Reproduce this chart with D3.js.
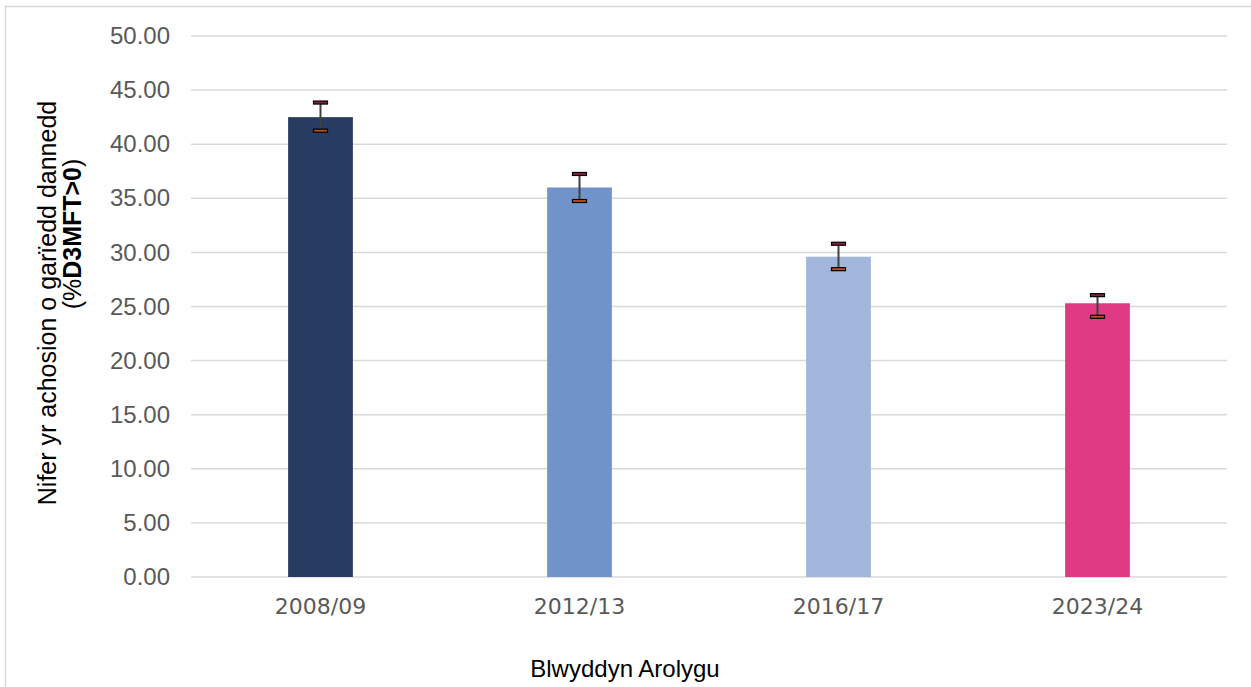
<!DOCTYPE html>
<html>
<head>
<meta charset="utf-8">
<script src="https://cdn.jsdelivr.net/npm/d3@7"></script>
<style>
  body { margin: 0; background: #fff; }
  svg { display: block; }
</style>
</head>
<body>
<svg></svg>
<script>
// Chart data
const years = ["2008/09", "2012/13", "2016/17", "2023/24"];
const values = [42.5, 36.0, 29.6, 25.3];
const lower = [41.25, 34.75, 28.45, 24.05];
const upper = [43.85, 37.25, 30.8, 26.05];
const barColors = ["#283b61", "#7094c9", "#a2b6dc", "#e03a84"];
const yTicks = [0, 5, 10, 15, 20, 25, 30, 35, 40, 45, 50];

const width = 1251;
const height = 687;
const margin = { top: 36, right: 24, bottom: 110, left: 191 };

const svg = d3.select("svg")
    .attr("width", width)
    .attr("height", height);

// Outer chart border (runs off the right and bottom edges)
svg.append("rect")
    .attr("x", 5.5)
    .attr("y", 6.5)
    .attr("width", width + 10)
    .attr("height", height + 10)
    .attr("fill", "none")
    .attr("stroke", "#d9d9d9")
    .attr("stroke-width", 1.5);

const x = d3.scaleBand()
    .domain(years)
    .range([margin.left, width - margin.right])
    .paddingInner(0.75)
    .paddingOuter(0.375);

const y = d3.scaleLinear()
    .domain([0, 50])
    .range([height - margin.bottom, margin.top]);

// Gridlines
svg.append("g")
    .selectAll("line")
    .data(yTicks)
    .enter().append("line")
    .attr("x1", margin.left)
    .attr("x2", width - margin.right)
    .attr("y1", d => y(d))
    .attr("y2", d => y(d))
    .attr("stroke", "#d9d9d9")
    .attr("stroke-width", 1.5);

// Y axis labels
const yAxis = d3.axisLeft(y)
    .tickValues(yTicks)
    .tickFormat(d3.format(".2f"))
    .tickSize(0)
    .tickPadding(21);

svg.append("g")
    .attr("transform", `translate(${margin.left},0)`)
    .call(yAxis)
    .call(g => g.select(".domain").remove())
    .selectAll("text")
    .attr("font-family", "Liberation Sans, Arial, sans-serif")
    .attr("font-size", 24)
    .attr("fill", "#595959");

// Bars
svg.append("g")
    .selectAll("rect")
    .data(years)
    .enter().append("rect")
    .attr("x", d => x(d))
    .attr("y", (d, i) => y(values[i]))
    .attr("width", x.bandwidth())
    .attr("height", (d, i) => y(0) - y(values[i]))
    .attr("fill", (d, i) => barColors[i]);

// Error bars
const err = svg.append("g")
    .selectAll("g")
    .data(years)
    .enter().append("g");

err.append("line")
    .attr("x1", d => x(d) + x.bandwidth() / 2)
    .attr("x2", d => x(d) + x.bandwidth() / 2)
    .attr("y1", (d, i) => y(upper[i]))
    .attr("y2", (d, i) => y(lower[i]))
    .attr("stroke", "#404040")
    .attr("stroke-width", 2);

err.append("rect")
    .attr("x", d => x(d) + x.bandwidth() / 2 - 7)
    .attr("y", (d, i) => y(upper[i]) - 1.5)
    .attr("width", 14)
    .attr("height", 3)
    .attr("fill", "#8a1f4a")
    .attr("stroke", "#000")
    .attr("stroke-width", 1.2);

err.append("rect")
    .attr("x", d => x(d) + x.bandwidth() / 2 - 7)
    .attr("y", (d, i) => y(lower[i]) - 1.5)
    .attr("width", 14)
    .attr("height", 3)
    .attr("fill", "#c4501a")
    .attr("stroke", "#000")
    .attr("stroke-width", 1.2);

// X axis labels
const xAxis = d3.axisBottom(x).tickSize(0).tickPadding(21);

svg.append("g")
    .attr("transform", `translate(0,${y(0)})`)
    .call(xAxis)
    .call(g => g.select(".domain").remove())
    .selectAll("text")
    .attr("font-family", "DejaVu Sans, sans-serif")
    .attr("font-size", 22)
    .attr("fill", "#595959");

// X axis title
svg.append("text")
    .attr("x", 625)
    .attr("y", 677)
    .attr("text-anchor", "middle")
    .attr("font-family", "Liberation Sans, Arial, sans-serif")
    .attr("font-size", 24)
    .attr("fill", "#000")
    .text("Blwyddyn Arolygu");

// Y axis title (two lines, rotated)
const yTitle = svg.append("text")
    .attr("transform", "translate(0,303) rotate(-90)")
    .attr("text-anchor", "middle")
    .attr("font-family", "Liberation Sans, Arial, sans-serif")
    .attr("font-size", 25)
    .attr("fill", "#000");

yTitle.append("tspan")
    .attr("x", 0)
    .attr("y", 56)
    .text("Nifer yr achosion o garïedd dannedd");

// second line sits toward the top in the original
const line2 = yTitle.append("tspan")
    .attr("x", 69)
    .attr("y", 81);
line2.append("tspan").text("(%");
line2.append("tspan").attr("font-weight", "bold").text("D3MFT>0");
line2.append("tspan").text(")");
</script>
</body>
</html>
